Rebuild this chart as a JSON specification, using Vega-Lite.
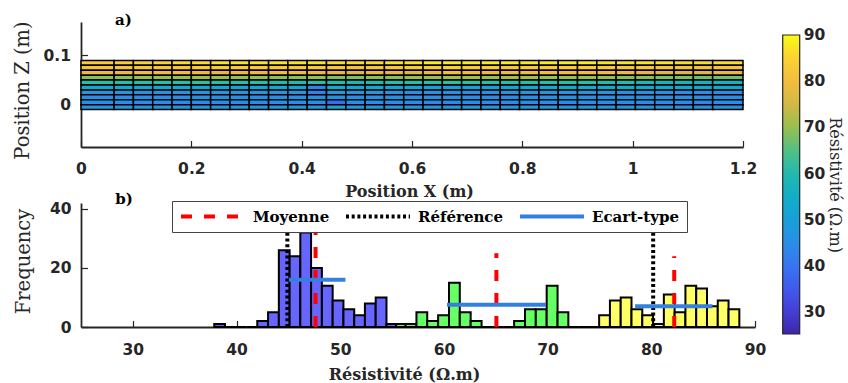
{
  "$schema": "https://vega.github.io/schema/vega-lite/v6.json",
  "background": "white",
  "padding": {"left": 12, "top": 12, "right": 0, "bottom": 0},
  "spacing": 56,
  "bounds": "flush",
  "config": {
    "view": {"stroke": null},
    "axis": {"grid": false, "domainColor": "#262626", "domainWidth": 1.8, "tickColor": "#262626", "tickWidth": 1.2, "tickSize": -6.5, "labelFont": "DejaVu Sans", "labelFontWeight": "bold", "labelFontSize": 15.5, "labelColor": "#262626", "labelOverlap": false, "labelFlush": false, "titleFont": "DejaVu Serif", "titleColor": "#262626"}
  },
  "resolve": {"scale": {"x": "independent", "y": "independent", "color": "independent"}, "legend": {"color": "independent"}},
  "vconcat": [
    {
      "width": 662,
      "height": 125,
      "layer": [
        {
          "data": {"values": [
            {"z0":0.08,"z1":0.09,"c0":84,"c1":84,"c2":85,"c3":85,"c4":86,"c5":86,"c6":87,"c7":87,"c8":87,"c9":87,"c10":87,"c11":87,"c12":86,"c13":86,"c14":86,"c15":87,"c16":87,"c17":88,"c18":88,"c19":88,"c20":88,"c21":88,"c22":88,"c23":88,"c24":88,"c25":88,"c26":87,"c27":87,"c28":87,"c29":87,"c30":86,"c31":86,"c32":86},
            {"z0":0.07,"z1":0.08,"c0":82,"c1":82,"c2":83,"c3":83,"c4":83,"c5":84,"c6":84,"c7":84,"c8":84,"c9":83,"c10":83,"c11":84,"c12":83,"c13":82,"c14":83,"c15":83,"c16":84,"c17":84,"c18":85,"c19":84,"c20":84,"c21":83,"c22":84,"c23":84,"c24":84,"c25":84,"c26":84,"c27":83,"c28":83,"c29":83,"c30":82,"c31":82,"c32":82},
            {"z0":0.06,"z1":0.07,"c0":78,"c1":78,"c2":79,"c3":79,"c4":79,"c5":78,"c6":77,"c7":78,"c8":78,"c9":79,"c10":79,"c11":78,"c12":77,"c13":76,"c14":77,"c15":77,"c16":76,"c17":78,"c18":80,"c19":79,"c20":78,"c21":79,"c22":79,"c23":80,"c24":80,"c25":80,"c26":79,"c27":78,"c28":77,"c29":76,"c30":76,"c31":76,"c32":77},
            {"z0":0.05,"z1":0.06,"c0":69,"c1":69,"c2":70,"c3":70,"c4":70,"c5":71,"c6":70,"c7":70,"c8":70,"c9":69,"c10":69,"c11":70,"c12":68,"c13":68,"c14":69,"c15":69,"c16":70,"c17":70,"c18":71,"c19":71,"c20":70,"c21":71,"c22":71,"c23":70,"c24":70,"c25":70,"c26":70,"c27":69,"c28":69,"c29":68,"c30":68,"c31":67,"c32":67},
            {"z0":0.04,"z1":0.05,"c0":61,"c1":61,"c2":61,"c3":61,"c4":61,"c5":62,"c6":61,"c7":61,"c8":61,"c9":60,"c10":60,"c11":61,"c12":60,"c13":59,"c14":60,"c15":61,"c16":61,"c17":61,"c18":62,"c19":62,"c20":61,"c21":61,"c22":61,"c23":61,"c24":61,"c25":61,"c26":60,"c27":60,"c28":59,"c29":58,"c30":58,"c31":57,"c32":57},
            {"z0":0.03,"z1":0.04,"c0":53,"c1":53,"c2":53,"c3":53,"c4":53,"c5":53,"c6":52,"c7":52,"c8":52,"c9":53,"c10":52,"c11":43,"c12":54,"c13":53,"c14":53,"c15":52,"c16":52,"c17":51,"c18":50,"c19":50,"c20":51,"c21":52,"c22":53,"c23":53,"c24":54,"c25":54,"c26":54,"c27":54,"c28":53,"c29":53,"c30":53,"c31":53,"c32":53},
            {"z0":0.02,"z1":0.03,"c0":48,"c1":48,"c2":47,"c3":47,"c4":47,"c5":48,"c6":48,"c7":48,"c8":48,"c9":48,"c10":48,"c11":43,"c12":49,"c13":48,"c14":48,"c15":47,"c16":46,"c17":47,"c18":47,"c19":46,"c20":47,"c21":48,"c22":48,"c23":48,"c24":48,"c25":48,"c26":48,"c27":47,"c28":47,"c29":47,"c30":46,"c31":46,"c32":46},
            {"z0":0.01,"z1":0.02,"c0":45,"c1":45,"c2":45,"c3":45,"c4":45,"c5":46,"c6":46,"c7":46,"c8":46,"c9":46,"c10":46,"c11":46,"c12":47,"c13":46,"c14":46,"c15":46,"c16":45,"c17":45,"c18":45,"c19":45,"c20":45,"c21":45,"c22":46,"c23":46,"c24":46,"c25":46,"c26":46,"c27":46,"c28":46,"c29":45,"c30":45,"c31":45,"c32":45},
            {"z0":0.0,"z1":0.01,"c0":46,"c1":46,"c2":45,"c3":45,"c4":44,"c5":45,"c6":45,"c7":45,"c8":45,"c9":45,"c10":45,"c11":46,"c12":38,"c13":46,"c14":45,"c15":45,"c16":45,"c17":44,"c18":44,"c19":45,"c20":45,"c21":45,"c22":45,"c23":45,"c24":45,"c25":45,"c26":46,"c27":46,"c28":45,"c29":45,"c30":45,"c31":44,"c32":45},
            {"z0":-0.01,"z1":0.0,"c0":47,"c1":47,"c2":47,"c3":47,"c4":47,"c5":47,"c6":47,"c7":47,"c8":47,"c9":47,"c10":47,"c11":47,"c12":52,"c13":47,"c14":47,"c15":47,"c16":47,"c17":47,"c18":47,"c19":47,"c20":47,"c21":47,"c22":47,"c23":47,"c24":47,"c25":47,"c26":47,"c27":47,"c28":47,"c29":46,"c30":46,"c31":46,"c32":46}
          ]},
          "transform": [
            {"fold": ["c0","c1","c2","c3","c4","c5","c6","c7","c8","c9","c10","c11","c12","c13","c14","c15","c16","c17","c18","c19","c20","c21","c22","c23","c24","c25","c26","c27","c28","c29","c30","c31","c32"]},
            {"lookup": "key", "from": {"data": {"values": [
              {"key":"c0","x0":0,"x1":0.06},{"key":"c1","x0":0.06,"x1":0.095},{"key":"c2","x0":0.095,"x1":0.13},{"key":"c3","x0":0.13,"x1":0.165},
              {"key":"c4","x0":0.165,"x1":0.2},{"key":"c5","x0":0.2,"x1":0.235},{"key":"c6","x0":0.235,"x1":0.27},{"key":"c7","x0":0.27,"x1":0.305},
              {"key":"c8","x0":0.305,"x1":0.34},{"key":"c9","x0":0.34,"x1":0.375},{"key":"c10","x0":0.375,"x1":0.41},{"key":"c11","x0":0.41,"x1":0.445},
              {"key":"c12","x0":0.445,"x1":0.48},{"key":"c13","x0":0.48,"x1":0.515},{"key":"c14","x0":0.515,"x1":0.55},{"key":"c15","x0":0.55,"x1":0.585},
              {"key":"c16","x0":0.585,"x1":0.62},{"key":"c17","x0":0.62,"x1":0.655},{"key":"c18","x0":0.655,"x1":0.69},{"key":"c19","x0":0.69,"x1":0.725},
              {"key":"c20","x0":0.725,"x1":0.76},{"key":"c21","x0":0.76,"x1":0.795},{"key":"c22","x0":0.795,"x1":0.83},{"key":"c23","x0":0.83,"x1":0.865},
              {"key":"c24","x0":0.865,"x1":0.9},{"key":"c25","x0":0.9,"x1":0.935},{"key":"c26","x0":0.935,"x1":0.97},{"key":"c27","x0":0.97,"x1":1.005},
              {"key":"c28","x0":1.005,"x1":1.04},{"key":"c29","x0":1.04,"x1":1.075},{"key":"c30","x0":1.075,"x1":1.11},{"key":"c31","x0":1.11,"x1":1.145},
              {"key":"c32","x0":1.145,"x1":1.2}
            ]}, "key": "key", "fields": ["x0","x1"]}}
          ],
          "mark": {"type": "rect", "stroke": "#000000", "strokeWidth": 1.5},
          "encoding": {
            "x": {"field": "x0", "type": "quantitative", "scale": {"domain": [0, 1.2], "nice": false, "zero": false},
                  "axis": {"values": [0,0.2,0.4,0.6,0.8,1,1.2], "format": "~f", "labelPadding": 21.25, "title": "Position X (m)", "titleFontSize": 16, "titleFontWeight": "bold", "titleX": 328, "titleY": 49, "titleBaseline": "alphabetic", "titleAlign": "center", "titleAngle": 0}},
            "x2": {"field": "x1"},
            "y": {"field": "z0", "type": "quantitative", "scale": {"domain": [-0.086, 0.168], "nice": false, "zero": false},
                  "axis": {"values": [0, 0.1], "format": "~f", "labelPadding": 17, "title": "Position Z (m)", "titleFontSize": 19.5, "titleFontWeight": "normal", "titleX": -53, "titleY": 68, "titleAngle": 270, "titleBaseline": "alphabetic", "titleAlign": "center"}},
            "y2": {"field": "z1"},
            "color": {"field": "value", "type": "quantitative",
                      "scale": {"domain": [25.3, 90], "nice": false, "zero": false, "interpolate": "rgb", "range": ["#3e26a8","#4646e6","#3a6cf5","#2a8de8","#14a3d6","#0fb5bd","#45c090","#a0bf48","#eab642","#fcc63a","#f9fb15"]},
                      "legend": {"orient": "none", "legendX": 701.7, "legendY": 13, "direction": "vertical", "gradientLength": 299, "gradientThickness": 17, "gradientStrokeColor": "#262626", "gradientStrokeWidth": 1.2, "values": [30,40,50,60,70,80,90], "labelFont": "DejaVu Sans", "labelFontWeight": "bold", "labelFontSize": 15.5, "labelColor": "#262626", "labelOffset": 4, "labelOverlap": false, "padding": 0, "title": "Résistivité (Ω.m)", "titleOrient": "right", "titleAngle": 270, "titleFont": "DejaVu Serif", "titleFontWeight": "normal", "titleFontSize": 16, "titleColor": "#262626", "titleAnchor": "middle", "titlePadding": 1,
                                 "encode": {"labels": {"update": {"baseline": {"value": "middle"}}}}}}
          }
        },
        {
          "data": {"values": [{"label": "a)"}]},
          "mark": {"type": "text", "align": "left", "baseline": "alphabetic", "font": "DejaVu Serif", "fontSize": 15, "fontWeight": "bold", "color": "#000000"},
          "encoding": {
            "x": {"datum": 0.0616},
            "y": {"datum": 0.162},
            "text": {"field": "label"}
          }
        }
      ]
    },
    {
      "width": 674,
      "height": 124,
      "layer": [
        {
          "data": {"values": [
            {"g":"A","b0":37.85,"b1":38.89,"n":1},{"g":"A","b0":38.89,"b1":39.93,"n":0},{"g":"A","b0":39.93,"b1":40.96,"n":0},{"g":"A","b0":40.96,"b1":42.0,"n":0},
            {"g":"A","b0":42.0,"b1":43.04,"n":2},{"g":"A","b0":43.04,"b1":44.08,"n":5},{"g":"A","b0":44.08,"b1":45.12,"n":26},{"g":"A","b0":45.12,"b1":46.15,"n":24},
            {"g":"A","b0":46.15,"b1":47.19,"n":32},{"g":"A","b0":47.19,"b1":48.23,"n":20},{"g":"A","b0":48.23,"b1":49.27,"n":14},{"g":"A","b0":49.27,"b1":50.31,"n":9},
            {"g":"A","b0":50.31,"b1":51.35,"n":6},{"g":"A","b0":51.35,"b1":52.38,"n":4},{"g":"A","b0":52.38,"b1":53.42,"n":8},{"g":"A","b0":53.42,"b1":54.46,"n":10},
            {"g":"A","b0":54.46,"b1":55.4,"n":1},
            {"g":"B","b0":55.4,"b1":56.3,"n":1},{"g":"B","b0":56.3,"b1":57.35,"n":1},{"g":"B","b0":57.35,"b1":58.39,"n":5},{"g":"B","b0":58.39,"b1":59.44,"n":2},
            {"g":"B","b0":59.44,"b1":60.49,"n":4},{"g":"B","b0":60.49,"b1":61.53,"n":15},{"g":"B","b0":61.53,"b1":62.58,"n":5},{"g":"B","b0":62.58,"b1":63.63,"n":2},
            {"g":"B","b0":63.63,"b1":64.68,"n":0},{"g":"B","b0":64.68,"b1":65.72,"n":0},{"g":"B","b0":65.72,"b1":66.77,"n":0},{"g":"B","b0":66.77,"b1":67.82,"n":2},
            {"g":"B","b0":67.82,"b1":68.86,"n":6},{"g":"B","b0":68.86,"b1":69.91,"n":6},{"g":"B","b0":69.91,"b1":70.96,"n":14},{"g":"B","b0":70.96,"b1":72.0,"n":5},
            {"g":"B","b0":72.0,"b1":73.0,"n":0},{"g":"B","b0":73.0,"b1":74.0,"n":0},{"g":"B","b0":74.0,"b1":74.97,"n":0},
            {"g":"C","b0":74.97,"b1":76.01,"n":4},{"g":"C","b0":76.01,"b1":77.05,"n":9},{"g":"C","b0":77.05,"b1":78.09,"n":10},{"g":"C","b0":78.09,"b1":79.13,"n":6},
            {"g":"C","b0":79.13,"b1":80.17,"n":4},{"g":"C","b0":80.17,"b1":81.21,"n":1},{"g":"C","b0":81.21,"b1":82.25,"n":11},{"g":"C","b0":82.25,"b1":83.29,"n":5},
            {"g":"C","b0":83.29,"b1":84.33,"n":14},{"g":"C","b0":84.33,"b1":85.37,"n":13},{"g":"C","b0":85.37,"b1":86.41,"n":7},{"g":"C","b0":86.41,"b1":87.45,"n":9},
            {"g":"C","b0":87.45,"b1":88.49,"n":6}
          ]},
          "mark": {"type": "rect", "stroke": "#000000", "strokeWidth": 2},
          "encoding": {
            "x": {"field": "b0", "type": "quantitative", "scale": {"domain": [25, 90], "nice": false, "zero": false},
                  "axis": {"values": [30,40,50,60,70,80,90], "labelPadding": 22.25, "title": "Résistivité (Ω.m)", "titleFontSize": 16, "titleFontWeight": "bold", "titleX": 323, "titleY": 52.4, "titleBaseline": "alphabetic", "titleAlign": "center", "titleAngle": 0}},
            "x2": {"field": "b1"},
            "y": {"field": "n", "type": "quantitative", "scale": {"domain": [0, 42], "nice": false},
                  "axis": {"values": [0,20,40], "labelPadding": 16.5, "title": "Frequency", "titleFontSize": 19.5, "titleFontWeight": "normal", "titleX": -52, "titleY": 58, "titleAngle": 270, "titleBaseline": "alphabetic", "titleAlign": "center"}},
            "y2": {"datum": 0},
            "fill": {"field": "g", "type": "nominal", "scale": {"domain": ["A","B","C"], "range": ["#6666ff","#66ff66","#ffff66"]}, "legend": null}
          }
        },
        {
          "data": {"values": [
            {"kind":"Moyenne","x0":47.62,"x1":47.62,"y0":0,"y1":42},
            {"kind":"Moyenne","x0":65.06,"x1":65.06,"y0":0,"y1":25},
            {"kind":"Moyenne","x0":82.21,"x1":82.21,"y0":0,"y1":24},
            {"kind":"Référence","x0":44.9,"x1":44.9,"y0":0,"y1":42},
            {"kind":"Référence","x0":80.18,"x1":80.18,"y0":0,"y1":42},
            {"kind":"Ecart-type","x0":45.05,"x1":50.5,"y0":16,"y1":16},
            {"kind":"Ecart-type","x0":60.3,"x1":69.85,"y0":7.5,"y1":7.5},
            {"kind":"Ecart-type","x0":78.44,"x1":85.9,"y0":7,"y1":7}
          ]},
          "mark": {"type": "rule", "strokeWidth": 4},
          "encoding": {
            "x": {"field": "x0", "type": "quantitative", "title": "Résistivité (Ω.m)"},
            "x2": {"field": "x1"},
            "y": {"field": "y0", "type": "quantitative", "title": "Frequency"},
            "y2": {"field": "y1"},
            "color": {"field": "kind", "type": "nominal",
                      "scale": {"domain": ["Moyenne","Référence","Ecart-type"], "range": ["#ff0000","#000000","#3380e0"]},
                      "legend": {"title": null, "orient": "none", "legendX": 91, "legendY": -2, "direction": "horizontal", "symbolType": "stroke", "symbolSize": 4096, "symbolStrokeWidth": 4, "clipHeight": 17, "labelFont": "DejaVu Serif", "labelFontWeight": "bold", "labelFontSize": 15, "labelColor": "#000000", "labelOffset": 6, "columnPadding": 14, "padding": 7, "fillColor": "#ffffff", "strokeColor": "#444444",
                                 "encode": {"symbols": {"update": {"strokeDash": {"signal": "datum.value === 'Moyenne' ? [11,12] : datum.value === 'Référence' ? [3,2.7] : [1,0]"}}}}}},
            "strokeDash": {"field": "kind", "type": "nominal",
                      "scale": {"domain": ["Moyenne","Référence","Ecart-type"], "range": [[11,12],[3,2.7],[1,0]]}}
          }
        },
        {
          "data": {"values": [{"label": "b)"}]},
          "mark": {"type": "text", "align": "left", "baseline": "alphabetic", "font": "DejaVu Serif", "fontSize": 15, "fontWeight": "bold", "color": "#000000"},
          "encoding": {
            "x": {"datum": 28.3},
            "y": {"datum": 41.5},
            "text": {"field": "label"}
          }
        }
      ]
    }
  ]
}
